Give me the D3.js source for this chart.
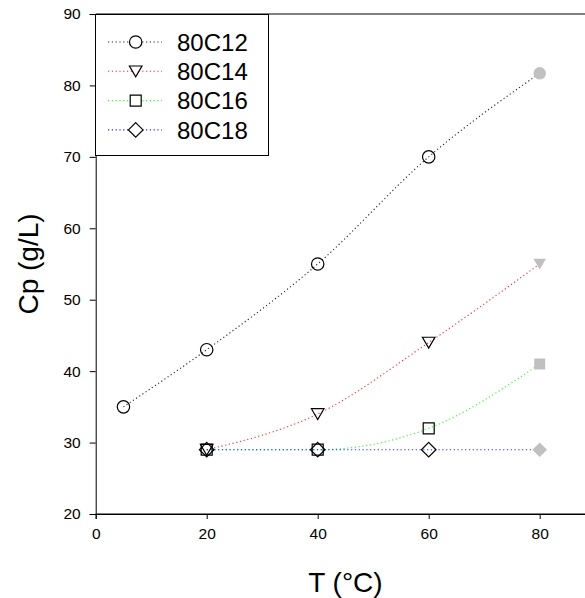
<!DOCTYPE html>
<html><head><meta charset="utf-8">
<script src="https://cdn.jsdelivr.net/npm/d3@7"></script>
<style>body{margin:0;background:#fff}svg{display:block}text{font-family:"Liberation Sans",Arial,sans-serif}</style>
</head><body>
<svg id="c" width="585" height="598"></svg>
<script>
const seriesNames = ["80C12", "80C14", "80C16", "80C18"];
const seriesColors = ["#000000", "#ff0000", "#00ff00", "#0000ff"];
const seriesSymbols = ["circle", "triangle", "square", "diamond"];
const t12 = [5, 20, 40, 60, 80];
const cp12 = [35, 43, 55, 70, 81.7];
const t14 = [20, 40, 60, 80];
const cp14 = [29, 34, 44, 55];
const t16 = [20, 40, 60, 80];
const cp16 = [29, 29, 32, 41];
const t18 = [20, 40, 60, 80];
const cp18 = [29, 29, 29, 29];
const xTicks = [0, 20, 40, 60, 80];
const yTicks = [20, 30, 40, 50, 60, 70, 80, 90];
const highlightT = 80;

const allT = [t12, t14, t16, t18];
const allCp = [cp12, cp14, cp16, cp18];

const svg = d3.select("#c");
const x = d3.scaleLinear().domain([0, 90]).range([95.7, 595.2]);
const y = d3.scaleLinear().domain([20, 90]).range([514, 14]);

svg.append("line").attr("x1", x(0)).attr("x2", 585).attr("y1", y(90)).attr("y2", y(90)).attr("stroke", "#000").attr("stroke-width", 1);

const xAxis = svg.append("g").attr("transform", `translate(0,${y(20)})`)
  .call(d3.axisBottom(x).tickValues(xTicks).tickSize(5).tickPadding(9).tickFormat(d3.format("d")));
const yAxis = svg.append("g").attr("transform", `translate(${x(0)},0)`)
  .call(d3.axisLeft(y).tickValues(yTicks).tickSize(6).tickPadding(9).tickFormat(d3.format("d")));
[xAxis, yAxis].forEach(a => {
  a.selectAll("text").attr("font-size", 15.5).attr("fill", "#000").style("font-family", '"Liberation Sans",Arial,sans-serif');
  a.selectAll("line").attr("stroke", "#000");
  a.select(".domain").attr("stroke", "#000");
});
svg.append("line").attr("x1", x(0)).attr("x2", 585).attr("y1", y(20)).attr("y2", y(20)).attr("stroke", "#000");

function symPath(s) {
  if (s === "circle") return d3.symbol().type(d3.symbolCircle).size(Math.PI * 6.2 * 6.2)();
  if (s === "triangle") return "M-6.3,-5.3L6.3,-5.3L0,5.6Z";
  if (s === "square") return "M-5.5,-5.5L5.5,-5.5L5.5,5.5L-5.5,5.5Z";
  return "M0,-7.3L7.3,0L0,7.3L-7.3,0Z";
}

const line = d3.line().x(d => x(d[0])).y(d => y(d[1])).curve(d3.curveMonotoneX);

seriesNames.forEach((name, i) => {
  const pts = allT[i].map((t, j) => [t, allCp[i][j]]);
  svg.append("path").attr("d", line(pts)).attr("fill", "none")
    .attr("stroke", seriesColors[i]).attr("stroke-width", 1.1).attr("stroke-dasharray", "1.2,2.6").attr("opacity", 0.85);
});
seriesNames.forEach((name, i) => {
  const s = seriesSymbols[i];
  allT[i].forEach((t, j) => {
    const hl = t === highlightT;
    svg.append("path").attr("d", symPath(s)).attr("transform", `translate(${x(t)},${y(allCp[i][j])})`)
      .attr("fill", hl ? "#c0c0c0" : "none").attr("stroke", hl ? "none" : "#000").attr("stroke-width", 1.2);
  });
});

const lg = svg.append("g");
lg.append("rect").attr("x", 95.5).attr("y", 14.5).attr("width", 173).attr("height", 141).attr("fill", "#fff").attr("stroke", "#000");
seriesNames.forEach((name, i) => {
  const ly = 42 + i * 29.3;
  lg.append("line").attr("x1", 108).attr("x2", 162).attr("y1", ly).attr("y2", ly)
    .attr("stroke", seriesColors[i]).attr("stroke-width", 1.1).attr("stroke-dasharray", "1.2,2.6").attr("opacity", 0.85);
  const s = seriesSymbols[i];
  lg.append("path").attr("d", symPath(s)).attr("transform", `translate(135.7,${ly})`).attr("fill", "#fff").attr("stroke", "#000").attr("stroke-width", 1.2);
  lg.append("text").attr("x", 177).attr("y", ly + 8.7).attr("font-size", 24).text(name);
});

svg.append("text").attr("x", (x(0) + x(90)) / 2).attr("y", 592).attr("text-anchor", "middle").attr("font-size", 28).text("T (°C)");
svg.append("text").attr("transform", `translate(38,${(y(20) + y(90)) / 2}) rotate(-90)`).attr("text-anchor", "middle").attr("font-size", 28).text("Cp (g/L)");
</script>
</body></html>
